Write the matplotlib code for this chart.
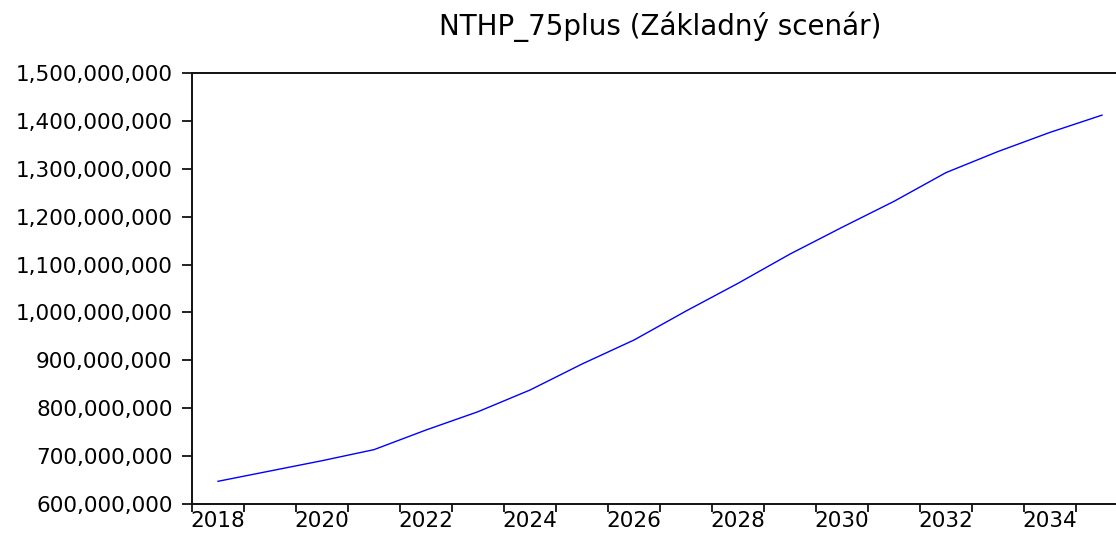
import matplotlib
matplotlib.use('Agg')
import matplotlib.pyplot as plt
from matplotlib.ticker import FixedLocator, FixedFormatter, StrMethodFormatter, NullFormatter

# annual observations (EViews style: plotted at mid-year)
years = list(range(2018, 2036))
values = [647.4e6, 668.9e6, 690.4e6, 713.5e6, 754.5e6, 792.7e6, 838.0e6, 892.3e6,
          942.4e6, 1002.9e6, 1060.8e6, 1121.9e6, 1177.7e6, 1232.0e6, 1292.0e6,
          1336.0e6, 1376.0e6, 1412.0e6]
label_years = list(range(2018, 2036, 2))
y_ticks = list(range(600_000_000, 1_500_000_001, 100_000_000))

title = 'NTHP_75plus (Základný scenár)'

plt.rcParams['font.family'] = ['DejaVu Sans']

fig = plt.figure(figsize=(11.16, 5.39), dpi=100)
# axes runs slightly past the right edge, like the cropped original
ax = fig.add_axes([192 / 1116, 1 - 504 / 539, (1128 - 192) / 1116, (504 - 73) / 539])

x = [y + 0.5 for y in years]
ax.plot(x, values, color='#0000ff', linewidth=1.0)

ax.set_xlim(2018, 2036)
ax.set_ylim(600_000_000, 1_500_000_000)

# yearly tick marks on the period edges, labels centred in the period
ax.xaxis.set_major_locator(FixedLocator(years + [2036]))
ax.xaxis.set_major_formatter(NullFormatter())
ax.xaxis.set_minor_locator(FixedLocator([y + 0.5 for y in label_years]))
ax.xaxis.set_minor_formatter(FixedFormatter([str(y) for y in label_years]))
ax.tick_params(axis='x', which='major', direction='out', length=5.5, width=1.3, color='#111111')
ax.tick_params(axis='x', which='minor', length=0, pad=5, labelsize=15.5)

ax.yaxis.set_major_locator(FixedLocator(y_ticks))
ax.yaxis.set_major_formatter(StrMethodFormatter('{x:,.0f}'))
ax.tick_params(axis='y', direction='out', length=7, width=1.3, color='#111111', pad=7, labelsize=15.5)

for side in ['left', 'bottom', 'top', 'right']:
    ax.spines[side].set_linewidth(1.4)
    ax.spines[side].set_color('#111111')

fig.text(660 / 1116, 1 - 27 / 539, title, ha='center', va='center', fontsize=20, color='black')

fig.savefig('out.png', dpi=100)
